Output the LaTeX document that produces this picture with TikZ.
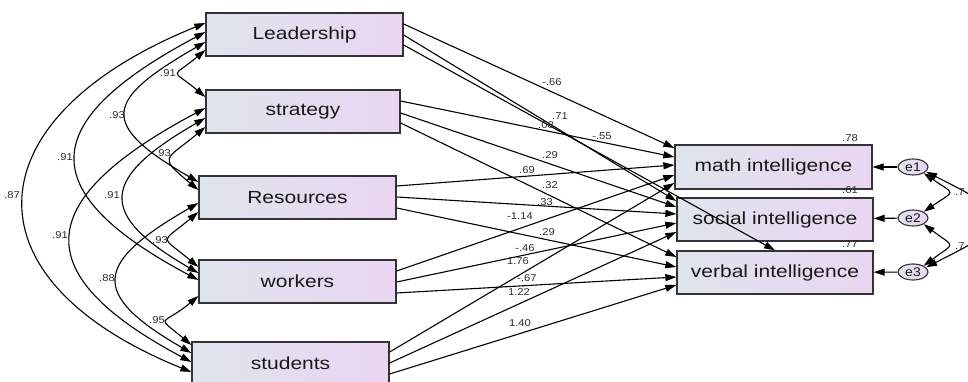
\documentclass[tikz,border=0pt]{standalone}
\usepackage{fontspec}
\setmainfont{Liberation Sans}
\newfontfamily\boxfont[FakeStretch=1.2]{Liberation Sans}
\newfontfamily\labfont[FakeStretch=1.12]{Liberation Sans}
\usetikzlibrary{arrows.meta,calc,shapes.geometric}
\definecolor{boxL}{RGB}{222,229,236}
\definecolor{boxR}{RGB}{234,213,243}
\definecolor{edgec}{RGB}{50,50,55}
\definecolor{txt}{RGB}{25,25,25}
\definecolor{labc}{RGB}{45,45,45}
\begin{document}
\begin{tikzpicture}[x=1pt,y=-1pt,
  var/.style={draw=edgec, line width=1.3pt, left color=boxL, right color=boxR, minimum height=43pt, inner sep=0pt, font=\boxfont\fontsize{17.5}{20}\selectfont, text=txt},
  err/.style={ellipse, draw=edgec, line width=1.1pt, left color=boxL, right color=boxR, minimum width=30pt, minimum height=16pt, inner sep=0pt, font=\labfont\fontsize{12.5}{14}\selectfont, text=txt},
  lab/.style={font=\labfont\fontsize{10}{12}\selectfont, text=labc, inner sep=0pt},
  reg/.style={line width=1.1pt, -{Triangle[length=11pt,width=7pt]}},
  cov/.style={line width=1.1pt, {Triangle[length=11pt,width=7pt]}-{Triangle[length=11pt,width=7pt]}},
]
\path[fill=white,use as bounding box] (0,0) rectangle (968,382);

% boxes
\node[var, minimum width=197pt] (L) at (304.5,34.5) {Leadership};
\node[var, minimum width=194pt] (S) at (303,111.5) {strategy};
\node[var, minimum width=197pt] (R) at (297.5,197.5) {Resources};
\node[var, minimum width=197pt] (W) at (297.5,281.5) {workers};
\node[var, minimum width=197pt] (T) at (290.5,363.5) {students};
\node[var, minimum width=197pt, minimum height=44pt] (M) at (773.5,167) {math intelligence};
\node[var, minimum width=196pt] (Q) at (775,219.5) {social intelligence};
\node[var, minimum width=196pt] (V) at (775,272.5) {verbal intelligence};
\node[err] (e1) at (913,167) {e1};
\node[err] (e2) at (913,218) {e2};
\node[err] (e3) at (913,272) {e3};

% covariances among exogenous
\draw[cov] ($(L.west)+(0,15.5)$) .. controls +(-34.7,29.1) and +(-34.7,-29.1) .. ($(S.west)+(0,-14.5)$);
\draw[cov] ($(L.west)+(0,7.5)$) .. controls +(-100.7,58.1) and +(-100.7,-58.1) .. ($(R.west)+(0,-15.5)$);
\draw[cov] ($(L.west)+(0,-2.5)$) .. controls +(-167.3,89) and +(-167.3,-89) .. ($(W.west)+(0,-1.5)$);
\draw[cov] ($(L.west)+(0,-11.5)$) .. controls +(-232,93.7) and +(-232,-93.7) .. ($(T.west)+(0,8.5)$);
\draw[cov] ($(S.west)+(0,15.5)$) .. controls +(-40.7,34.1) and +(-40.7,-34.1) .. ($(R.west)+(0,-7.5)$);
\draw[cov] ($(S.west)+(0,6.5)$) .. controls +(-103.3,59.6) and +(-103.3,-59.6) .. ($(W.west)+(0,-8.5)$);
\draw[cov] ($(S.west)+(0,-3.5)$) .. controls +(-169.3,90) and +(-169.3,-90) .. ($(T.west)+(0,-1.5)$);
\draw[cov] ($(R.west)+(0,14.5)$) .. controls +(-38.7,32.4) and +(-38.7,-32.4) .. ($(W.west)+(0,-14.5)$);
\draw[cov] ($(R.west)+(0,5.5)$) .. controls +(-103.3,59.6) and +(-103.3,-59.6) .. ($(T.west)+(0,-10.5)$);
\draw[cov] ($(W.west)+(0,14.5)$) .. controls +(-36.7,30.8) and +(-36.7,-30.8) .. ($(T.west)+(0,-18.5)$);

\node[lab] (c1) at (168,73) {.91};
\node[lab] (c2) at (117,115) {.93};
\node[lab] (c3) at (65,157) {.91};
\node[lab] (c4) at (12,195) {.87};
\node[lab] (c5) at (163,153) {.93};
\node[lab] (c6) at (112,195) {.91};
\node[lab] (c7) at (60,235) {.91};
\node[lab] (c8) at (160,240) {.93};
\node[lab] (c9) at (107,278) {.88};
\node[lab] (c10) at (157,320) {.95};

% regression paths
\draw[reg] ($(L.east)+(0,-10.5)$) -- ($(M.west)+(0,-19)$);
\draw[reg] ($(L.east)+(0,0.5)$) -- ($(Q.west)+(0,-18.5)$);
\draw[reg] ($(L.east)+(0,10.5)$) -- (V.north);
\draw[reg] ($(S.east)+(0,-10.5)$) -- ($(M.west)+(0,-10)$);
\draw[reg] ($(S.east)+(0,1.5)$) -- ($(Q.west)+(0,-12.5)$);
\draw[reg] ($(S.east)+(0,11.5)$) -- ($(V.west)+(0,-15.5)$);
\draw[reg] ($(R.east)+(0,-11.5)$) -- ($(M.west)+(0,-2)$);
\draw[reg] ($(R.east)+(0,-0.5)$) -- ($(Q.west)+(0,-5.5)$);
\draw[reg] ($(R.east)+(0,10.5)$) -- ($(V.west)+(0,-5.5)$);
\draw[reg] ($(W.east)+(0,-10.5)$) -- ($(M.west)+(0,8)$);
\draw[reg] ($(W.east)+(0,0.5)$) -- ($(Q.west)+(0,3.5)$);
\draw[reg] ($(W.east)+(0,11.5)$) -- ($(V.west)+(0,4.5)$);
\draw[reg] ($(T.east)+(0,-11.5)$) -- ($(M.west)+(0,16)$);
\draw[reg] ($(T.east)+(0,-0.5)$) -- ($(Q.west)+(0,12.5)$);
\draw[reg] ($(T.east)+(0,10.5)$) -- ($(V.west)+(0,12.5)$);

\node[lab] (p1) at (552,82) {-.66};
\node[lab] (p2) at (560,116.5) {.71};
\node[lab] (p3) at (546,125.5) {.08};
\node[lab] (p4) at (602,136) {-.55};
\node[lab] (p5) at (550,155) {.29};
\node[lab] (p6) at (550,185) {.32};
\node[lab] (p7) at (527,170) {.69};
\node[lab] (p8) at (545,202) {.33};
\node[lab] (p9) at (547,232) {.29};
\node[lab] (p10) at (520,216) {-1.14};
\node[lab] (p11) at (525,248) {-.46};
\node[lab] (p12) at (527,278) {-.67};
\node[lab] (p13) at (518,261) {1.76};
\node[lab] (p14) at (519,292) {1.22};
\node[lab] (p15) at (520,323) {1.40};

% R-squared
\node[lab] (r1) at (850,138) {.78};
\node[lab] (r2) at (850,190) {.61};
\node[lab] (r3) at (850,244) {.77};

% errors
\draw[reg] (e1) -- (M);
\draw[reg] (e2) -- (Q);
\draw[reg] (e3) -- (V);
\draw[cov] (e1.-30) .. controls +(32,22) and +(32,-22) .. (e2.30);
\draw[cov] (e2.-30) .. controls +(32,24) and +(32,-24) .. (e3.30);
\draw[cov] (e1.-20) .. controls +(90,45) and +(90,-45) .. (e3.20);
\node[lab, anchor=west] (ec1) at (955,192) {.7};
\node[lab, anchor=west] (ec2) at (955,246) {.7};
\end{tikzpicture}
\end{document}
